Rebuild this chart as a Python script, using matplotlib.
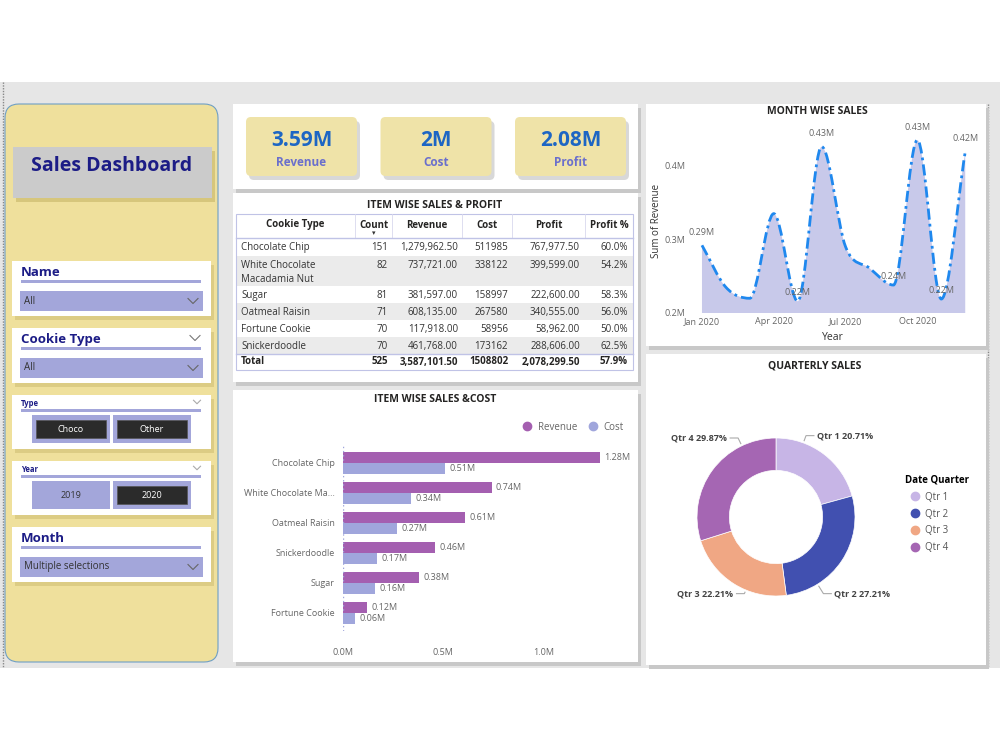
import matplotlib.pyplot as plt
import numpy as np
from matplotlib.patches import Rectangle, FancyBboxPatch, PathPatch
from matplotlib.path import Path
from matplotlib.lines import Line2D

plt.rcParams['font.family'] = ['Open Sans', 'DejaVu Sans']

# ---- data ----
kpi_values = ["3.59M", "2M", "2.08M"]
kpi_labels = ["Revenue", "Cost", "Profit"]

cookie_types = ["Chocolate Chip", "White Chocolate\nMacadamia Nut", "Sugar",
                "Oatmeal Raisin", "Fortune Cookie", "Snickerdoodle"]
counts = [151, 82, 81, 71, 70, 70]
revenue = [1279962.50, 737721.00, 381597.00, 608135.00, 117918.00, 461768.00]
cost = [511985, 338122, 158997, 267580, 58956, 173162]
profit = [767977.50, 399599.00, 222600.00, 340555.00, 58962.00, 288606.00]

months = ["Jan", "Feb", "Mar", "Apr", "May", "Jun", "Jul", "Aug", "Sep", "Oct", "Nov", "Dec"]
month_revenue = [0.292, 0.235, 0.220, 0.335, 0.216, 0.426, 0.290, 0.261, 0.238, 0.435, 0.219, 0.419]
labelled_months = [0, 4, 5, 8, 9, 10, 11]

quarters = ["Qtr 1", "Qtr 2", "Qtr 3", "Qtr 4"]
quarter_share = [20.71, 27.21, 22.21, 29.87]
quarter_colors = ["#c7b5e6", "#4150b0", "#f0a784", "#a566b3"]

bar_items = ["Chocolate Chip", "White Chocolate Ma...", "Oatmeal Raisin",
             "Snickerdoodle", "Sugar", "Fortune Cookie"]
bar_revenue = [1.28, 0.74, 0.61, 0.46, 0.38, 0.12]
bar_cost = [0.51, 0.34, 0.27, 0.17, 0.16, 0.06]

NAVY = "#1c1c86"
LAV = "#a3a6da"
GRAYTXT = "#666666"

fig = plt.figure(figsize=(10, 7.5), dpi=100)
bg = fig.add_axes([0, 0, 1, 1])
bg.set_xlim(0, 1000)
bg.set_ylim(750, 0)
bg.axis('off')


def px_axes(x0, y0, x1, y1):
    return fig.add_axes([x0 / 1000, 1 - y1 / 750, (x1 - x0) / 1000, (y1 - y0) / 750])


def box(x0, y0, x1, y1, color, shadow=None, rounding=0, ec='none', lw=0, z=1):
    if shadow:
        bg.add_patch(FancyBboxPatch((x0 + 3, y0 + 4), x1 - x0, y1 - y0,
                                    boxstyle=f"round,pad=0,rounding_size={rounding}",
                                    fc=shadow, ec='none', zorder=z))
    bg.add_patch(FancyBboxPatch((x0, y0), x1 - x0, y1 - y0,
                                boxstyle=f"round,pad=0,rounding_size={rounding}",
                                fc=color, ec=ec, lw=lw, zorder=z + 0.1))


def chevron(x, y, size=5, color="#777777"):
    bg.plot([x - size, x, x + size], [y - size / 2, y + size / 2, y - size / 2],
            color=color, lw=0.8, zorder=5)


# page background
bg.add_patch(Rectangle((0, 82), 1000, 586, fc="#e6e6e6", ec='none', zorder=0))
bg.plot([3, 3], [82, 668], color="#888888", lw=1, ls=(0, (1, 1)), zorder=1)
bg.plot([988, 988], [104, 668], color="#888888", lw=1, ls=(0, (1, 1)), zorder=1)

# left slicer panel
box(5, 104, 218, 662, "#efe09c", rounding=14, ec="#6f9fc4", lw=0.8)
box(13, 147, 212, 198, "#cbcbcb", shadow="#d6c67c", z=2)
bg.text(112, 166, "Sales Dashboard", ha='center', va='center', fontsize=14,
        fontweight='bold', color=NAVY, zorder=3)

# Name / Cookie Type / Month dropdown slicers
for title, top, sel, chev in [("Name", 261, "All", False), ("Cookie Type", 328, "All", True),
                              ("Month", 527, "Multiple selections", False)]:
    box(12, top, 211, top + 55, "white", shadow="#dccc84", z=2)
    bg.text(21, top + 12, title, ha='left', va='center', fontsize=9.5,
            fontweight='bold', color=NAVY, zorder=3)
    if chev:
        chevron(195, top + 10)
    bg.add_patch(Rectangle((21, top + 19), 180, 3, fc=LAV, ec='none', zorder=3))
    bg.add_patch(Rectangle((20, top + 30), 183, 20, fc=LAV, ec='none', zorder=3))
    bg.text(24, top + 40, sel, ha='left', va='center', fontsize=7, color="#333333", zorder=4)
    chevron(193, top + 40, color="#666666")

# Type / Year button slicers
for title, top, buttons, dark in [("Type", 395, ["Choco", "Other"], [True, True]),
                                  ("Year", 461, ["2019", "2020"], [False, True])]:
    box(12, top, 211, top + 54, "white", shadow="#dccc84", z=2)
    bg.text(21, top + 9, title, ha='left', va='center', fontsize=5.5,
            fontweight='bold', color=NAVY, zorder=3)
    chevron(197, top + 7, size=3.5, color="#aaaaaa")
    bg.add_patch(Rectangle((21, top + 14), 180, 3, fc=LAV, ec='none', zorder=3))
    for k, (lab, dk) in enumerate(zip(buttons, dark)):
        bx = 32 + k * 81
        bg.add_patch(Rectangle((bx, top + 20), 78, 28, fc=LAV, ec='none', zorder=3))
        if dk:
            bg.add_patch(Rectangle((bx + 4, top + 25), 70, 18, fc="#2b2b2b",
                                   ec="#555555", lw=0.5, zorder=4))
        bg.text(bx + 39, top + 34, lab, ha='center', va='center', fontsize=6.5,
                color='white' if dk else "#333333", zorder=5)

# KPI cards
box(233, 104, 638, 189, "white", shadow="#c8c8c8", z=1)
for k, (val, lab) in enumerate(zip(kpi_values, kpi_labels)):
    cx0 = 246 + k * 134.5
    box(cx0, 117, cx0 + 111, 176, "#efe3a8", shadow="#d8d8d8", rounding=5, z=2)
    bg.text(cx0 + 55.5, 140, val, ha='center', va='center', fontsize=15,
            fontweight='bold', color="#1d66c4", zorder=3)
    bg.text(cx0 + 55.5, 163, lab, ha='center', va='center', fontsize=8.5,
            fontweight='bold', color="#6a6fcc", zorder=3)

# table panel
box(233, 193, 638, 382, "white", shadow="#c8c8c8", z=1)
bg.text(435, 206, "ITEM WISE SALES & PROFIT", ha='center', va='center', fontsize=7.5,
        fontweight='bold', color="#252423", zorder=3)
headers = ["Cookie Type", "Count", "Revenue", "Cost", "Profit", "Profit %"]
col_sep = [236, 355, 392, 462, 512, 585, 633]
col_right = [None, 388, 458, 508, 580, 628]
bg.add_patch(Rectangle((236, 214), 397, 156, fc='none', ec="#c0c3e6", lw=0.8, zorder=4))
for k, h in enumerate(headers):
    bg.text((col_sep[k] + col_sep[k + 1]) / 2, 225, h, ha='center', va='center',
            fontsize=7, fontweight='bold', color="#252423", zorder=5)
    if k > 0:
        bg.plot([col_sep[k], col_sep[k]], [214, 237], color="#d8d8ee", lw=0.6, zorder=4)
bg.text(373.5, 234, "\u25be", ha='center', va='center', fontsize=5, color="#333333", zorder=5)
bg.plot([236, 633], [237.5, 237.5], color="#c0c3e6", lw=1, zorder=4)

row_heights = [18, 30, 17, 17, 17, 17]
y = 238
for i, name in enumerate(cookie_types):
    h = row_heights[i]
    if i % 2 == 1:
        bg.add_patch(Rectangle((236, y), 397, h, fc="#ebebeb", ec='none', zorder=3))
    ty = y + 9.5
    if '\n' in name:
        bg.text(241, y + 3.5, name, ha='left', va='top', fontsize=7, color="#333333",
                zorder=5, linespacing=1.45)
    else:
        bg.text(241, ty, name, ha='left', va='center', fontsize=7, color="#333333", zorder=5)
    cells = [f"{counts[i]}", f"{revenue[i]:,.2f}", f"{cost[i]}", f"{profit[i]:,.2f}",
             f"{profit[i] / revenue[i] * 100:.1f}%"]
    for k, c in enumerate(cells):
        bg.text(col_right[k + 1], ty, c, ha='right', va='center', fontsize=7,
                color="#333333", zorder=5)
    y += h
bg.plot([236, 633], [y, y], color="#c0c3e6", lw=1, zorder=4)
total_cells = [f"{sum(counts)}", f"{sum(revenue):,.2f}", f"{sum(cost)}",
               f"{sum(profit):,.2f}", f"{sum(profit) / sum(revenue) * 100:.1f}%"]
bg.text(241, y + 8, "Total", ha='left', va='center', fontsize=7, fontweight='bold',
        color="#252423", zorder=5)
for k, c in enumerate(total_cells):
    bg.text(col_right[k + 1], y + 8, c, ha='right', va='center', fontsize=7,
            fontweight='bold', color="#252423", zorder=5)

# other panels
box(233, 390, 638, 662, "white", shadow="#c8c8c8", z=1)
box(646, 104, 986, 346, "white", shadow="#c8c8c8", z=1)
box(646, 354, 986, 665, "white", shadow="#c8c8c8", z=1)

# ---- month wise sales ----
bg.text(817, 111, "MONTH WISE SALES", ha='center', va='center', fontsize=7.5,
        fontweight='bold', color="#252423", zorder=3)
ax1 = px_axes(690, 129, 976, 313)
xs = np.arange(len(months), dtype=float)
ys = np.array(month_revenue)
# monotone cubic tangents (Fritsch-Carlson) so the smoothed line has no overshoot
d = np.diff(ys)
m = np.zeros_like(ys)
m[0], m[-1] = d[0], d[-1]
for k in range(1, len(ys) - 1):
    if d[k - 1] * d[k] > 0:
        m[k] = (d[k - 1] + d[k]) / 2
        lim = 3 * min(abs(d[k - 1]), abs(d[k]))
        m[k] = np.sign(m[k]) * min(abs(m[k]), lim)
verts = [(xs[0], ys[0])]
codes = [Path.MOVETO]
for i in range(len(xs) - 1):
    verts += [(xs[i] + 1 / 3, ys[i] + m[i] / 3), (xs[i + 1] - 1 / 3, ys[i + 1] - m[i + 1] / 3),
              (xs[i + 1], ys[i + 1])]
    codes += [Path.CURVE4] * 3
fill_verts = verts + [(xs[-1], 0.2), (xs[0], 0.2), (xs[0], ys[0])]
fill_codes = codes + [Path.LINETO, Path.LINETO, Path.CLOSEPOLY]
ax1.add_patch(PathPatch(Path(fill_verts, fill_codes), fc="#c8c9ea", ec='none'))
ax1.add_patch(PathPatch(Path(verts, codes), fc='none', ec="#1f88ee", lw=2,
                        ls=(0, (4, 1.5, 1, 1.5))))
for i in labelled_months:
    ax1.annotate(f"{month_revenue[i]:.2f}M", (xs[i], ys[i]), xytext=(0, 6),
                 textcoords='offset points', ha='center', va='bottom' if ys[i] > 0.25 else 'center',
                 fontsize=6.5, color=GRAYTXT)
ax1.set_xlim(-0.5, 11.45)
ax1.set_ylim(0.2, 0.45)
ax1.set_yticks([0.2, 0.3, 0.4])
ax1.set_yticklabels(["0.2M", "0.3M", "0.4M"])
ax1.set_xticks([0, 3, 6, 9])
ax1.set_xticklabels([f"{months[k]} 2020" for k in [0, 3, 6, 9]])
ax1.tick_params(length=0, labelsize=6.5, colors=GRAYTXT, pad=3)
for s in ax1.spines.values():
    s.set_visible(False)
ax1.set_facecolor('none')
ax1.set_ylabel("Sum of Revenue", fontsize=7, color="#333333", labelpad=2)
ax1.set_xlabel("Year", fontsize=7.5, color="#333333", labelpad=4)

# ---- item wise sales & cost ----
bg.text(435, 400, "ITEM WISE SALES &COST", ha='center', va='center', fontsize=7.5,
        fontweight='bold', color="#252423", zorder=3)
ax2 = px_axes(343, 445, 624, 631)
pos = np.arange(len(bar_items))
ax2.barh(pos - 0.19, bar_revenue, height=0.38, color="#a45fb0", label="Revenue")
ax2.barh(pos + 0.19, bar_cost, height=0.38, color="#a0a6dc", label="Cost")
for p, r, c in zip(pos, bar_revenue, bar_cost):
    ax2.text(r + 0.02, p - 0.19, f"{r:.2f}M", va='center', fontsize=6.5, color=GRAYTXT)
    ax2.text(c + 0.02, p + 0.19, f"{c:.2f}M", va='center', fontsize=6.5, color=GRAYTXT)
ax2.set_ylim(5.6, -0.6)
ax2.set_xlim(0, 1.4)
ax2.set_yticks(pos)
ax2.set_yticklabels(bar_items)
ax2.set_xticks([0, 0.5, 1.0])
ax2.set_xticklabels(["0.0M", "0.5M", "1.0M"])
ax2.tick_params(length=0, labelsize=6.5, colors=GRAYTXT)
ax2.tick_params(axis='x', pad=12)
ax2.tick_params(axis='y', pad=6)
for s in ax2.spines.values():
    s.set_visible(False)
ax2.axvline(0, color="#a0a6dc", lw=1, ls=(0, (1, 2)))
ax2.set_facecolor('none')
ax2.legend(handles=[Line2D([], [], marker='o', ls='', color="#a45fb0", markersize=6),
                    Line2D([], [], marker='o', ls='', color="#a0a6dc", markersize=6)],
           labels=["Revenue", "Cost"], ncol=2, loc='lower right', frameon=False,
           bbox_to_anchor=(1.03, 1.02), fontsize=7, handletextpad=0.1, columnspacing=0.6,
           labelcolor=GRAYTXT)

# ---- quarterly sales ----
bg.text(815, 366, "QUARTERLY SALES", ha='center', va='center', fontsize=7.5,
        fontweight='bold', color="#252423", zorder=3)
ax3 = px_axes(697, 438, 855, 596)
wedges, _ = ax3.pie(quarter_share, colors=quarter_colors, startangle=90, counterclock=False,
                    radius=1, wedgeprops=dict(width=0.41, edgecolor='white', linewidth=0.5))
ax3.set_xlim(-1, 1)
ax3.set_ylim(-1, 1)
label_pos = [(0.52, 1.03), (0.74, -0.97), (-0.54, -0.97), (-0.62, 1.0)]
for q, s, (lx, ly) in zip(quarters, quarter_share, label_pos):
    side = 1 if lx > 0 else -1
    ax3.text(lx, ly, f"{q} {s:.2f}%", ha='left' if side > 0 else 'right', va='center',
             fontsize=6.5, fontweight='bold', color="#444444", clip_on=False)
    # short leader: horizontal stub from the label, then a short segment to the ring edge
    ex, ey = lx - side * 0.14, ly
    ang = np.arctan2(ey, ex)
    ax3.plot([lx - side * 0.04, ex, 1.03 * np.cos(ang)], [ly, ly, 1.03 * np.sin(ang)],
             color="#aaaaaa", lw=0.8, clip_on=False)
fig.legend(handles=[Line2D([], [], marker='o', ls='', color=c, markersize=6) for c in quarter_colors],
           labels=quarters, loc='upper left', bbox_to_anchor=(0.901, 1 - 471 / 750),
           frameon=False, title="Date Quarter", alignment='left', fontsize=7,
           title_fontproperties={'size': 7, 'weight': 'bold'}, handletextpad=0.05,
           labelspacing=0.6, labelcolor="#555555", borderaxespad=0)

fig.savefig("out.png", dpi=100)
